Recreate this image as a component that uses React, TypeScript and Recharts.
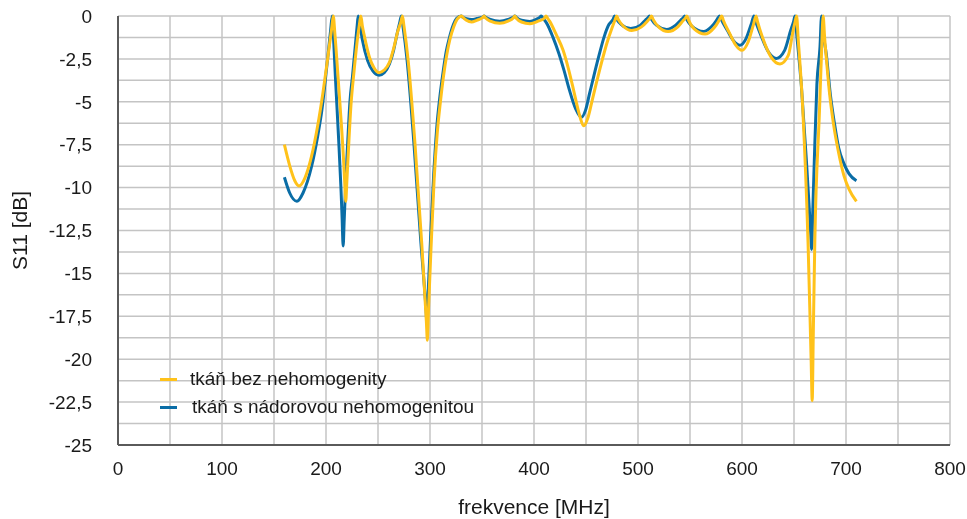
import { LineChart, Line, XAxis, YAxis, CartesianGrid, Legend } from "recharts";

// S11 of the antenna, tissue without inhomogeneity
const freqBez = [
  160, 165, 170, 174, 180, 186, 192, 197, 202, 205.5, 207,
  208.5, 210, 213.5, 217, 218, 219, 220, 221, 224, 227, 230.5, 232, 233.5,
  235, 237, 242, 246, 251, 256, 261, 265, 269, 272, 273.5,
  275, 279, 285.5, 292, 296.5, 297.5, 298.5, 301, 304, 307, 310, 313, 316, 319, 323, 326, 330.5,
  332, 335, 340, 345, 350.5, 352, 353.5, 358, 367, 375, 380, 381.5, 383, 388, 396, 404, 410, 411.5,
  413, 415, 421.5, 428, 433, 438, 443, 448, 452, 456, 460, 465, 470, 475, 478, 479.5,
  481, 486, 494, 503, 509, 511.5, 513,
  514.5, 520, 529, 538, 543, 545.5, 547,
  548.5, 554, 564.5, 573, 577.5, 579, 580.5,
  582, 588, 594, 600, 606, 611, 613.5,
  615, 620, 628, 636.5, 644.5, 649, 651, 652.5,
  654, 658.5, 663.5, 666.5, 667.5, 668.5, 670, 674.5, 676.5, 678,
  679.5, 681, 684, 688, 693, 698, 703, 710,
];
const s11Bez = [
  -7.5, -8.7, -9.6, -9.9, -9.4, -8.2, -6.4, -4.5, -2.3, -0.7, 0,
  -1.0, -2.2, -5.2, -8.5, -9.7, -10.8, -9.7, -8.5, -5.2, -3.2, -1.2, -0.55, 0,
  -0.6, -1.2, -2.45, -3.0, -3.3, -3.15, -2.7, -1.9, -0.9, -0.35, 0,
  -0.6, -2.6, -7.4, -13.2, -17.8, -18.9, -17.2, -13.5, -9.5, -6.8, -5.0, -3.5, -2.3, -1.4, -0.6, -0.2, 0,
  -0.1, -0.25, -0.35, -0.25, -0.1, 0, -0.12, -0.3, -0.42, -0.3, -0.12, 0, -0.13, -0.35, -0.45, -0.3, -0.13, 0,
  -0.12, -0.3, -1.1, -2.0, -3.05, -4.3, -5.6, -6.4, -5.9, -4.9, -3.9, -2.7, -1.6, -0.7, -0.22, 0,
  -0.2, -0.6, -0.85, -0.65, -0.3, -0.12, 0,
  -0.2, -0.65, -0.91, -0.65, -0.3, -0.12, 0,
  -0.22, -0.75, -1.05, -0.7, -0.3, -0.13, 0,
  -0.25, -1.0, -1.7, -2.0, -1.5, -0.5, 0,
  -0.35, -1.3, -2.4, -2.8, -2.3, -0.9, -0.35, 0,
  -1.3, -5.5, -13.2, -20.1, -22.4, -18.7, -13.2, -5.5, -2.1, 0,
  -1.3, -2.4, -4.4, -6.3, -8.0, -9.3, -10.1, -10.8,
];

// S11 with the tumour inhomogeneity
const freqNador = [
  160, 165, 172, 178, 186, 192, 196, 201, 204.5, 206,
  207.5, 209, 212, 214.5, 215.5, 216.5, 217.5, 219.5, 221, 223, 225.5, 229, 230, 231,
  232.5, 235, 240, 245, 251, 256, 261, 265, 268.5, 271, 272.5,
  274, 278, 284.5, 291, 296, 297, 298, 300.5, 303.5, 306.5, 309.5, 312.5, 315.5, 318.5, 322.5, 325.5, 330,
  331.5, 335, 340, 345, 350.5, 352, 353.5, 358, 367, 375, 380, 381.5, 383, 388, 396, 402, 405.5, 407,
  408.5, 412, 418, 424, 429, 434, 440, 445.5, 449.5, 453.5, 457.5, 462.5, 467.5, 472, 476, 477.5,
  479, 484, 493, 502, 507, 509.5, 511,
  512.5, 518, 527.5, 536, 541, 543.5, 545,
  546.5, 552, 563, 571, 575.5, 577, 578.5,
  580, 586, 592, 598, 604, 609, 611.5,
  613, 618, 625, 633, 641, 647, 649.5, 651,
  652.5, 657, 662, 666, 667, 668, 669.5, 672, 675, 676.5,
  678, 681, 685, 689, 693, 698, 703, 710,
];
const s11Nador = [
  -9.4, -10.3, -10.8, -10.3, -8.8, -7.0, -5.5, -2.8, -0.8, 0,
  -1.6, -3.5, -7.0, -10.2, -11.8, -13.4, -11.9, -9.0, -7.2, -5.0, -3.5, -1.2, -0.55, 0,
  -0.5, -1.4, -2.6, -3.2, -3.45, -3.3, -2.8, -2.0, -1.0, -0.35, 0,
  -0.6, -2.6, -7.4, -13.0, -16.9, -17.8, -16.4, -13.0, -9.3, -6.5, -4.7, -3.3, -2.1, -1.3, -0.5, -0.15, 0,
  -0.07, -0.15, -0.2, -0.15, -0.07, 0, -0.07, -0.2, -0.3, -0.2, -0.07, 0, -0.08, -0.25, -0.32, -0.2, -0.08, 0,
  -0.12, -0.4, -1.2, -2.2, -3.2, -4.3, -5.4, -5.9, -5.5, -4.5, -3.5, -2.3, -1.2, -0.5, -0.2, 0,
  -0.15, -0.5, -0.73, -0.55, -0.25, -0.1, 0,
  -0.15, -0.55, -0.78, -0.55, -0.25, -0.1, 0,
  -0.17, -0.6, -0.9, -0.6, -0.25, -0.1, 0,
  -0.2, -0.85, -1.45, -1.7, -1.3, -0.45, 0,
  -0.3, -1.1, -2.05, -2.47, -2.0, -0.8, -0.35, 0,
  -1.0, -4.0, -8.5, -12.6, -13.6, -11.5, -8.5, -4.0, -1.8, 0,
  -1.0, -2.2, -4.6, -6.3, -7.7, -8.6, -9.2, -9.6,
];

const xTicks = [0, 50, 100, 150, 200, 250, 300, 350, 400, 450, 500, 550, 600, 650, 700, 750, 800];
const yTicks = [
  0, -1.25, -2.5, -3.75, -5, -6.25, -7.5, -8.75, -10, -11.25, -12.5, -13.75, -15,
  -16.25, -17.5, -18.75, -20, -21.25, -22.5, -23.75, -25,
];

const seriesNames = ["tkáň bez nehomogenity", "tkáň s nádorovou nehomogenitou"];
const YELLOW = "#FFC21A";
const BLUE = "#0A6DA6";
const FONT = "'Liberation Sans', Arial, Helvetica, sans-serif";

const toPoints = (f: number[], v: number[]) => f.map((x, i) => ({ f: x, s11: v[i] }));

const dataBez = toPoints(freqBez, s11Bez);
const dataNador = toPoints(freqNador, s11Nador);

// labels only on every other grid line, Czech decimal comma
const fmtX = (v: number) => (v % 100 === 0 ? String(v) : "");
const fmtY = (v: number) => (v % 2.5 === 0 ? String(v).replace(".", ",") : "");

function LegendBox() {
  const items = [
    { name: seriesNames[0], color: YELLOW, pad: 0 },
    { name: seriesNames[1], color: BLUE, pad: 2 },
  ];
  return (
    <div style={{ fontFamily: FONT, fontSize: 19, color: "#1a1a1a" }}>
      {items.map((it) => (
        <div key={it.name} style={{ display: "flex", alignItems: "center", height: 28 }}>
          <span style={{ display: "inline-block", width: 17, height: 3, background: it.color }} />
          <span style={{ marginLeft: 13 + it.pad, whiteSpace: "nowrap" }}>{it.name}</span>
        </div>
      ))}
    </div>
  );
}

export default function App() {
  return (
    // fixed so the full-size svg never makes the page scroll
    <div style={{ position: "fixed", left: 0, top: 0, width: 967, height: 519 }}>
      <LineChart
        width={967}
        height={519}
        margin={{ top: 16, right: 17, left: 0, bottom: 0 }}
        style={{ fontFamily: FONT }}
      >
        <CartesianGrid stroke="#c4c4c4" strokeWidth={1.5} verticalValues={xTicks} horizontalValues={yTicks} />
        <XAxis
          dataKey="f"
          type="number"
          domain={[0, 800]}
          ticks={xTicks}
          interval={0}
          tickFormatter={fmtX}
          tickLine={false}
          tickSize={0}
          tickMargin={17}
          height={74}
          stroke="#5a5a5a"
          strokeWidth={2}
          tick={{ fill: "#1a1a1a", fontSize: 19 }}
          allowDuplicatedCategory={false}
          label={{ value: "frekvence [MHz]", position: "insideBottom", offset: 5, fill: "#1a1a1a", fontSize: 21 }}
        />
        <YAxis
          type="number"
          domain={[-25, 0]}
          ticks={yTicks}
          interval={0}
          tickFormatter={fmtY}
          tickLine={false}
          tickSize={0}
          tickMargin={26}
          width={118}
          stroke="#5a5a5a"
          strokeWidth={2}
          tick={{ fill: "#1a1a1a", fontSize: 19 }}
          label={{
            value: "S11 [dB]",
            angle: -90,
            position: "insideLeft",
            offset: 20,
            fill: "#1a1a1a",
            fontSize: 21,
            style: { textAnchor: "middle" },
          }}
        />
        <Legend
          layout="vertical"
          align="center"
          verticalAlign="middle"
          wrapperStyle={{ left: 160, top: 365, width: "auto" }}
          content={() => <LegendBox />}
        />
        <Line
          data={dataNador}
          dataKey="s11"
          name={seriesNames[1]}
          type="monotone"
          stroke={BLUE}
          strokeWidth={3}
          dot={false}
          activeDot={false}
          isAnimationActive={false}
        />
        <Line
          data={dataBez}
          dataKey="s11"
          name={seriesNames[0]}
          type="monotone"
          stroke={YELLOW}
          strokeWidth={3}
          dot={false}
          activeDot={false}
          isAnimationActive={false}
        />
      </LineChart>
    </div>
  );
}
